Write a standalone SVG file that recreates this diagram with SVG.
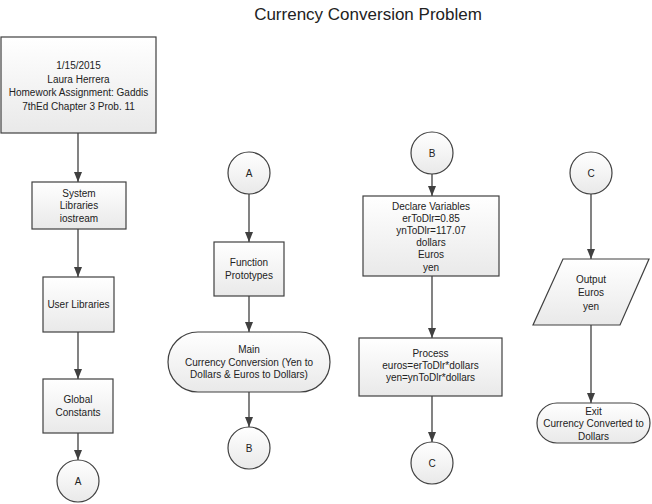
<svg xmlns="http://www.w3.org/2000/svg" width="652" height="504" viewBox="0 0 652 504">
<defs>
<linearGradient id="g" x1="0" y1="0" x2="0" y2="1">
<stop offset="0" stop-color="#ffffff"/>
<stop offset="1" stop-color="#e9e9e9"/>
</linearGradient>
<marker id="ah" markerUnits="userSpaceOnUse" markerWidth="10" markerHeight="10" viewBox="0 0 10 10" refX="10" refY="5" orient="auto">
<path d="M0,1 L10,5 L0,9 Z" fill="#404040"/>
</marker>
<style>
.s{fill:url(#g);stroke:#404040;stroke-width:1.2}
.t{font-family:"Liberation Sans",Arial,sans-serif;font-size:10px;fill:#222;text-anchor:middle}
.c{stroke:#404040;stroke-width:1.3;fill:none;marker-end:url(#ah)}
</style>
</defs>
<rect width="652" height="504" fill="#ffffff"/>
<text x="368" y="20" style="font-family:'Liberation Sans',Arial,sans-serif;font-size:17px;fill:#222;text-anchor:middle">Currency Conversion Problem</text>

<g id="connectors">
<line class="c" x1="78" y1="133" x2="78" y2="182"/>
<line class="c" x1="78" y1="229" x2="78" y2="277"/>
<line class="c" x1="78" y1="332" x2="78" y2="379"/>
<line class="c" x1="78" y1="433" x2="78" y2="460"/>
<line class="c" x1="249" y1="194" x2="249" y2="242"/>
<line class="c" x1="249" y1="296" x2="249" y2="332"/>
<line class="c" x1="249" y1="392" x2="249" y2="427"/>
<line class="c" x1="432" y1="174" x2="432" y2="196"/>
<line class="c" x1="432" y1="276" x2="432" y2="338"/>
<line class="c" x1="432" y1="396" x2="432" y2="442"/>
<line class="c" x1="591" y1="194" x2="591" y2="259"/>
<line class="c" x1="591" y1="325" x2="591" y2="403"/>
</g>

<g id="header">
<rect class="s" x="1" y="37" width="155" height="96"/>
<text class="t" x="78.5" y="69">1/15/2015</text>
<text class="t" x="78.5" y="82.5">Laura Herrera</text>
<text class="t" x="78.5" y="96">Homework Assignment: Gaddis</text>
<text class="t" x="78.5" y="109.5">7thEd Chapter 3 Prob. 11</text>
</g>

<g id="system-libraries">
<rect class="s" x="32" y="182" width="94" height="47"/>
<text class="t" x="79" y="196.5">System</text>
<text class="t" x="79" y="209">Libraries</text>
<text class="t" x="79" y="221.5">iostream</text>
</g>

<g id="user-libraries">
<rect class="s" x="43" y="277" width="71" height="55"/>
<text class="t" x="78.5" y="307.5">User Libraries</text>
</g>

<g id="global-constants">
<rect class="s" x="43" y="379" width="70" height="54"/>
<text class="t" x="78" y="403">Global</text>
<text class="t" x="78" y="415.5">Constants</text>
</g>

<g id="connector-a-out">
<circle class="s" cx="78" cy="481" r="21"/>
<text class="t" x="78" y="484.5">A</text>
</g>

<g id="connector-a-in">
<circle class="s" cx="249" cy="173" r="21"/>
<text class="t" x="249" y="176.5">A</text>
</g>

<g id="function-prototypes">
<rect class="s" x="214" y="242" width="70" height="54"/>
<text class="t" x="249" y="266">Function</text>
<text class="t" x="249" y="278.5">Prototypes</text>
</g>

<g id="main">
<rect class="s" x="168" y="332" width="162" height="60" rx="30" ry="30"/>
<text class="t" x="249" y="353">Main</text>
<text class="t" x="249" y="365.5">Currency Conversion (Yen to</text>
<text class="t" x="249" y="378">Dollars &amp; Euros to Dollars)</text>
</g>

<g id="connector-b-out">
<circle class="s" cx="249" cy="448" r="21"/>
<text class="t" x="249" y="451.5">B</text>
</g>

<g id="connector-b-in">
<circle class="s" cx="432" cy="153" r="21"/>
<text class="t" x="432" y="156.5">B</text>
</g>

<g id="declare-variables">
<rect class="s" x="363" y="196" width="136" height="80"/>
<text class="t" x="431" y="209.5">Declare Variables</text>
<text class="t" x="431" y="221.7">erToDlr=0.85</text>
<text class="t" x="431" y="233.9">ynToDlr=117.07</text>
<text class="t" x="431" y="246.1">dollars</text>
<text class="t" x="431" y="258.3">Euros</text>
<text class="t" x="431" y="270.5">yen</text>
</g>

<g id="process">
<rect class="s" x="359" y="338" width="143" height="58"/>
<text class="t" x="430.5" y="356.5">Process</text>
<text class="t" x="430.5" y="368.5">euros=erToDlr*dollars</text>
<text class="t" x="430.5" y="380.5">yen=ynToDlr*dollars</text>
</g>

<g id="connector-c-out">
<circle class="s" cx="432" cy="463" r="21"/>
<text class="t" x="432" y="466.5">C</text>
</g>

<g id="connector-c-in">
<circle class="s" cx="591" cy="173" r="21"/>
<text class="t" x="591" y="176.5">C</text>
</g>

<g id="output">
<polygon class="s" points="563,259 649,259 620,325 533,325"/>
<text class="t" x="591" y="282.5">Output</text>
<text class="t" x="591" y="296">Euros</text>
<text class="t" x="591" y="309.5">yen</text>
</g>

<g id="exit">
<rect class="s" x="537" y="403" width="113" height="40" rx="20" ry="20"/>
<text class="t" x="593.5" y="415">Exit</text>
<text class="t" x="593.5" y="427">Currency Converted to</text>
<text class="t" x="593.5" y="439.5">Dollars</text>
</g>
</svg>
